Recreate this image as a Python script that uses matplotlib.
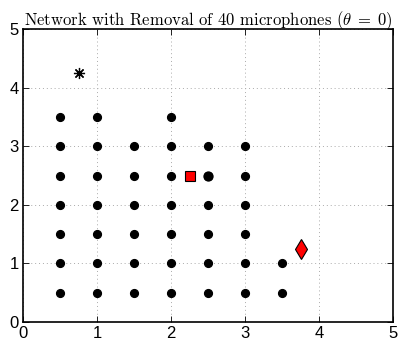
import matplotlib
matplotlib.use("Agg")
import matplotlib.pyplot as plt

# microphone positions left after removal
mic_x = [0.5] * 7 + [1.0] * 7 + [1.5] * 6 + [2.0] * 7 + [2.5] * 6 + [3.0] * 6 + [3.5] * 2
mic_y = ([0.5, 1.0, 1.5, 2.0, 2.5, 3.0, 3.5] * 2
         + [0.5, 1.0, 1.5, 2.0, 2.5, 3.0]
         + [0.5, 1.0, 1.5, 2.0, 2.5, 3.0, 3.5]
         + [0.5, 1.0, 1.5, 2.0, 2.5, 3.0] * 2
         + [0.5, 1.0])
star_xy = (0.75, 4.25)
square_xy = (2.25, 2.5)
diamond_xy = (3.75, 1.25)
highlight_xy = (2.5, 2.5)
ticks = [0, 1, 2, 3, 4, 5]

plt.rcParams["mathtext.fontset"] = "cm"
plt.rcParams["font.family"] = ["Liberation Sans", "DejaVu Sans"]

fig = plt.figure(figsize=(4.12, 3.49), dpi=100)
ax = fig.add_axes([0.056, 0.077, 0.898, 0.840])

ax.plot(mic_x, mic_y, "o", color="black", markersize=5.6, linestyle="none")
ax.plot(*highlight_xy, "o", color="black", markersize=6.4)
ax.plot(*highlight_xy, "s", color="black", markersize=4.6)
ax.plot(*star_xy, marker=(8, 2, 0), color="black", markersize=8, markeredgewidth=0.9)
ax.plot(*square_xy, "s", markerfacecolor="red", markeredgecolor="black",
        markersize=6.5, markeredgewidth=0.8)
ax.plot(*diamond_xy, "d", markerfacecolor="red", markeredgecolor="black",
        markersize=10.5, markeredgewidth=0.8)

ax.set_xlim(0, 5)
ax.set_ylim(0, 5)
ax.set_xticks(ticks)
ax.set_yticks(ticks)
ax.tick_params(direction="in", top=True, right=True, length=4, width=0.6,
               labelsize=12)
ax.tick_params(axis="x", pad=3)
ax.tick_params(axis="y", pad=3)
ax.grid(True, linestyle=(0, (1, 3)), color="#aaaaaa", linewidth=0.7)
for s in ax.spines.values():
    s.set_linewidth(1.2)

ax.set_title(r"Network with Removal of 40 microphones ($\theta\;=\;0$)",
             fontsize=12, family="cmr10", pad=3)

fig.savefig("out.png", dpi=100)
